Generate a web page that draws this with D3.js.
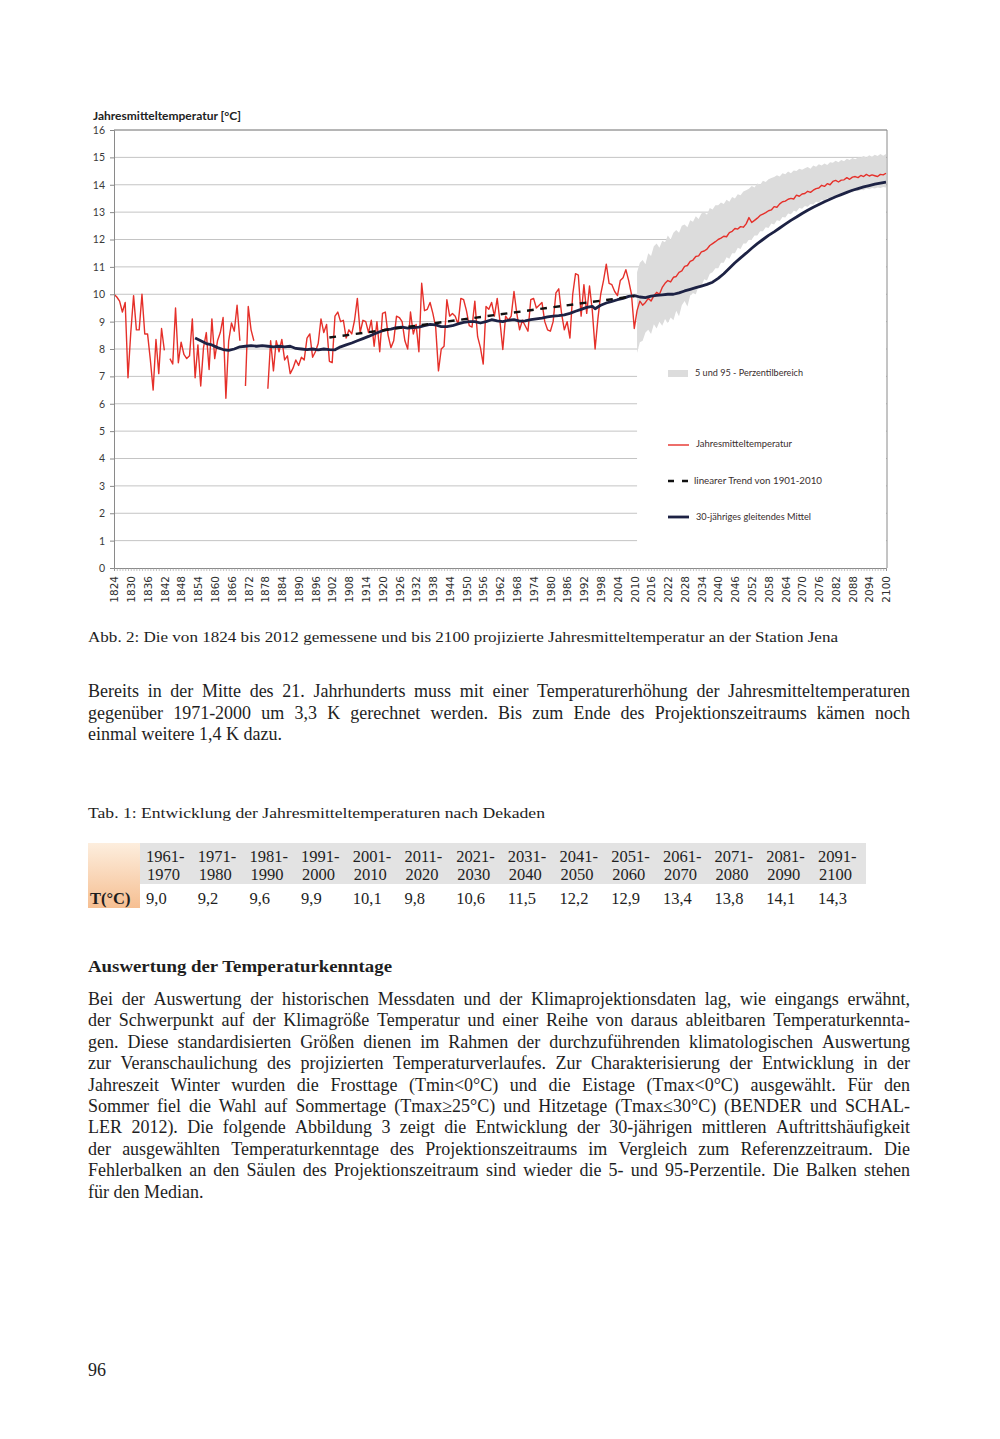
<!DOCTYPE html>
<html><head><meta charset="utf-8">
<script src="https://cdn.jsdelivr.net/npm/d3@7"></script>
<style>body{margin:0;background:#fff}svg{display:block}</style>
</head><body><svg id="c" width="1000" height="1439"></svg>
<script>
// ---------------- DATA ----------------
const tickYears = [1824,1830,1836,1842,1848,1854,1860,1866,1872,1878,1884,1890,1896,1902,1908,1914,1920,1926,1932,1938,1944,1950,1956,1962,1968,1974,1980,1986,1992,1998,2004,2010,2016,2022,2028,2034,2040,2046,2052,2058,2064,2070,2076,2082,2088,2094,2100];
const yTicks = [0,1,2,3,4,5,6,7,8,9,10,11,12,13,14,15,16];

// measured annual mean temperature 1824-2010 (null = missing)
const measuredTemp = [
 10.0, 9.9, 9.75, 9.35, 9.7, 6.95, 8.6, 9.95, 8.7, 8.7,      // 1824-1833
 10.0, 8.55, 8.55, 7.6, 6.5, 8.35, 7.1, 8.75, 7.95, null,    // 1834-1843
 7.65, 7.45, 9.5, 7.5, 8.25, 7.8, 7.65, 7.75, 9.1, 6.95,     // 1844-1853
 8.15, 6.65, 8.05, 8.6, 7.25, 9.1, 7.65, 8.3, 8.6, 9.15,     // 1854-1863
 6.2, 8.3, 8.95, 8.65, 9.6, 8.3, null, 6.65, 9.55, 8.7,      // 1864-1873
 8.3, null, null, null, null, 6.55, 8.3, 7.2, 8.3, 7.9,      // 1874-1883
 8.35, 7.6, 7.75, 7.1, 7.3, 7.6, 7.4, 7.7, 7.6, 8.4,         // 1884-1893
 8.55, 7.7, 7.9, 8.2, 9.1, 8.6, 8.9, 7.55, 7.5, 9.2,         // 1894-1903
 9.35, 9.0, 9.05, 8.4, 8.7, 8.55, 9.05, 9.85, 8.6, 9.05,     // 1904-1913
 9.0, 8.6, 9.05, 8.1, 9.0, 7.9, 9.3, 9.35, 8.5, 8.05,        // 1914-1923
 8.3, 9.2, 9.15, 9.0, 8.3, 8.0, 9.35, 8.55, 8.9, 7.9,        // 1924-1933
 10.4, 9.4, 9.45, 9.7, 9.3, 8.8, 7.2, 8.0, 8.1, 9.8,         // 1934-1943
 9.2, 9.3, 9.2, 8.9, 9.85, 9.8, 9.4, 8.85, 8.8, 9.75,        // 1944-1953
 8.45, 8.05, 7.45, 9.55, 9.45, 9.7, 9.2, 9.85, 9.0, 7.98,    // 1954-1963
 9.2, 9.05, 9.2, 10.1, 9.3, 8.7, 9.05, 8.85, 8.65, 9.8,      // 1964-1973
 9.85, 9.5, 9.6, 9.7, 9.0, 8.7, 8.65, 9.0, 10.05, 10.2,      // 1974-1983
 9.3, 8.7, 9.0, 8.4, 10.0, 10.75, 10.7, 9.2, 10.35, 9.3,     // 1984-1993
 10.3, 9.4, 8.0, 9.1, 10.0, 10.5, 11.1, 10.4, 10.35, 10.1,   // 1994-2003
 9.95, 10.5, 10.6, 10.9, 10.5, 10.0, 8.75                    // 2004-2010
];
// projected annual mean (median) 2011-2100
const projectedTemp = [
 9.4, 9.75, 9.6, 9.7, 9.85, 9.75, 9.95, 10.07, 10.0, 10.25,
 10.4, 10.5, 10.45, 10.62, 10.65, 10.8, 10.85, 11.02, 11.05, 11.2,
 11.25, 11.38, 11.4, 11.55, 11.58, 11.65, 11.78, 11.85, 11.92, 12.0,
 12.05, 12.12, 12.1, 12.25, 12.3, 12.4, 12.38, 12.47, 12.45, 12.57,
 12.8, 12.62, 12.7, 12.78, 12.88, 12.93, 12.98, 13.05, 13.08, 13.2,
 13.18, 13.3, 13.38, 13.4, 13.47, 13.5, 13.48, 13.62, 13.58, 13.66,
 13.68, 13.76, 13.72, 13.8, 13.86, 13.88, 13.98, 13.94, 14.04, 14.0,
 14.12, 14.16, 14.1, 14.17, 14.18, 14.26, 14.2, 14.28, 14.3, 14.26,
 14.34, 14.3, 14.38, 14.32, 14.36, 14.33, 14.3, 14.38, 14.36, 14.42
];
// 95th percentile 2011-2100
const bandUpper = [
 10.8, 11.15, 11.25, 11.1, 11.5, 11.4, 11.75, 11.85, 11.7, 11.95,
 11.9, 12.15, 12.0, 12.25, 12.35, 12.25, 12.5, 12.55, 12.45, 12.7,
 12.65, 12.85, 12.75, 12.95, 13.0, 12.9, 13.15, 13.1, 13.25, 13.25,
 13.35, 13.3, 13.45, 13.38, 13.55, 13.5, 13.65, 13.62, 13.75, 13.8,
 13.85, 13.95, 13.9, 14.05, 14.0, 14.15, 14.1, 14.2, 14.25, 14.28,
 14.35, 14.3, 14.42, 14.38, 14.48, 14.42, 14.52, 14.5, 14.58, 14.55,
 14.6, 14.65, 14.58, 14.7, 14.66, 14.75, 14.7, 14.78, 14.72, 14.82,
 14.8, 14.88, 14.82, 14.9, 14.86, 14.95, 14.9, 14.98, 14.93, 15.0,
 15.0, 15.05, 15.0, 15.08, 15.02, 15.1, 15.05, 15.12, 15.06, 15.12
];
// 5th percentile 2011-2100
const bandLower = [
 7.85, 8.25, 8.3, 8.6, 8.7, 8.55, 8.9, 8.75, 9.0, 8.85,
 9.1, 8.95, 9.15, 9.05, 9.4, 9.2, 9.6, 9.75, 9.55, 9.95,
 10.05, 10.0, 10.3, 10.3, 10.55, 10.5, 10.75, 10.8, 10.95, 10.95,
 11.15, 11.15, 11.35, 11.3, 11.5, 11.5, 11.7, 11.65, 11.85, 11.85,
 12.0, 12.0, 12.15, 12.15, 12.3, 12.3, 12.45, 12.42, 12.58, 12.55,
 12.7, 12.68, 12.82, 12.8, 12.95, 12.92, 13.05, 13.02, 13.15, 13.12,
 13.22, 13.2, 13.3, 13.28, 13.38, 13.35, 13.45, 13.42, 13.52, 13.5,
 13.58, 13.56, 13.64, 13.6, 13.7, 13.66, 13.75, 13.72, 13.8, 13.76,
 13.82, 13.8, 13.86, 13.84, 13.88, 13.86, 13.9, 13.88, 13.92, 13.9
];
// 30-year running mean [year, value]
const runningMean = [
 [1853,8.4],[1855,8.3],[1857,8.2],[1859,8.15],[1861,8.05],[1863,7.98],[1865,7.95],[1867,8.0],
 [1869,8.08],[1871,8.1],[1873,8.12],[1875,8.1],[1877,8.12],[1879,8.1],[1881,8.08],[1883,8.1],
 [1885,8.08],[1887,8.1],[1889,8.02],[1891,8.0],[1893,7.98],[1895,8.0],[1897,7.97],[1899,8.0],
 [1901,7.98],[1903,7.97],[1905,8.08],[1907,8.15],[1909,8.22],[1911,8.3],[1913,8.38],[1915,8.46],
 [1917,8.55],[1919,8.63],[1921,8.7],[1923,8.73],[1925,8.78],[1927,8.8],[1929,8.76],[1931,8.78],
 [1933,8.8],[1935,8.85],[1937,8.9],[1939,8.88],[1941,8.82],[1943,8.82],[1945,8.85],[1947,8.92],
 [1949,8.97],[1951,9.0],[1953,9.0],[1955,8.95],[1957,9.0],[1959,9.07],[1961,9.03],[1963,9.0],
 [1965,9.05],[1967,9.07],[1969,9.02],[1971,9.03],[1973,9.07],[1975,9.1],[1977,9.13],[1979,9.17],
 [1981,9.2],[1983,9.22],[1985,9.25],[1987,9.3],[1989,9.38],[1991,9.45],[1993,9.52],[1995,9.56],
 [1996,9.47],[1998,9.6],[2000,9.68],[2002,9.74],[2004,9.8],[2006,9.85],[2008,9.92],[2010,9.95],
 [2012,9.9],[2014,9.88],[2016,9.93],[2018,9.96],[2020,9.98],[2022,10.0],[2024,10.0],[2026,10.05],
 [2028,10.12],[2030,10.18],[2032,10.24],[2034,10.3],[2036,10.36],[2038,10.44],[2040,10.58],[2042,10.75],
 [2044,10.95],[2046,11.15],[2048,11.33],[2050,11.5],[2052,11.68],[2054,11.85],[2056,12.0],[2058,12.15],
 [2060,12.28],[2062,12.42],[2064,12.56],[2066,12.7],[2068,12.82],[2070,12.95],[2072,13.07],[2074,13.18],
 [2076,13.28],[2078,13.38],[2080,13.47],[2082,13.56],[2084,13.64],[2086,13.72],[2088,13.8],[2090,13.86],
 [2092,13.92],[2094,13.97],[2096,14.02],[2098,14.06],[2100,14.1]
];
// linear trend 1901-2010
const trendLine = [[1901, 8.42], [2010, 9.93]];

// table
const decadeLabels = [["1961-","1970"],["1971-","1980"],["1981-","1990"],["1991-","2000"],["2001-","2010"],["2011-","2020"],["2021-","2030"],["2031-","2040"],["2041-","2050"],["2051-","2060"],["2061-","2070"],["2071-","2080"],["2081-","2090"],["2091-","2100"]];
const decadeValues = ["9,0","9,2","9,6","9,9","10,1","9,8","10,6","11,5","12,2","12,9","13,4","13,8","14,1","14,3"];

const legendItems = ["5 und 95 - Perzentilbereich","Jahresmitteltemperatur","linearer Trend von 1901-2010","30-jähriges gleitendes Mittel"];

// ---------------- DRAW ----------------
const svg = d3.select("#c");
svg.append("rect").attr("width",1000).attr("height",1439).attr("fill","#fff");

const years = d3.range(1824, 2101);
const x = d3.scalePoint().domain(years).range([114, 886]);
const y = d3.scaleLinear().domain([0,16]).range([568,130]);
const red = "#e5302a", navy = "#1d2244", grid = "#c4c4c4";

const g = svg.append("g");

// gridlines
g.append("g").selectAll("line").data(yTicks.filter(d=>d>0)).join("line")
 .attr("x1",114).attr("x2",887).attr("y1",d=>y(d)).attr("y2",d=>y(d))
 .attr("stroke",grid).attr("stroke-width",1);

const bandYears = years.filter(d=>d>=2011);
const bandData = bandYears.map((yr,i)=>({yr, lo:bandLower[i], hi:bandUpper[i]}));

// white base of stacked area (hides gridlines below band)
g.append("path").datum(bandData)
 .attr("d", d3.area().x(d=>x(d.yr)).y0(y(0)).y1(d=>y(d.lo)))
 .attr("fill","#fff");
// percentile band
g.append("path").datum(bandData)
 .attr("d", d3.area().x(d=>x(d.yr)).y0(d=>y(d.lo)).y1(d=>y(d.hi)))
 .attr("fill","#dcdcdc");

// red line
const tempSeries = measuredTemp.map((v,i)=>({yr:1824+i, v}))
  .concat(projectedTemp.map((v,i)=>({yr:2011+i, v})));
g.append("path").datum(tempSeries)
 .attr("d", d3.line().defined(d=>d.v!=null).x(d=>x(d.yr)).y(d=>y(d.v)))
 .attr("fill","none").attr("stroke",red).attr("stroke-width",1.4).attr("stroke-linejoin","round");

// running mean
g.append("path").datum(runningMean)
 .attr("d", d3.line().x(d=>x(d[0])).y(d=>y(d[1])))
 .attr("fill","none").attr("stroke",navy).attr("stroke-width",2.8).attr("stroke-linejoin","round");

// trend
g.append("path").datum(trendLine)
 .attr("d", d3.line().x(d=>x(d[0])).y(d=>y(d[1])))
 .attr("fill","none").attr("stroke","#111").attr("stroke-width",2.4).attr("stroke-dasharray","6.7,6.6");

// axes
const yAxis = g.append("g").attr("transform","translate(114,0)")
 .call(d3.axisLeft(y).tickValues(yTicks).tickSize(4).tickFormat(d3.format("d")));
yAxis.select(".domain").attr("stroke","#8a8a8a");
yAxis.selectAll(".tick line").attr("stroke","#8a8a8a");
yAxis.selectAll("text").attr("font-family","Lato").attr("font-size",10.5).attr("fill","#3a3a3a").attr("x",-9);

const xMinor = g.append("g").attr("transform","translate(0,568)")
 .call(d3.axisBottom(x).tickValues(years).tickSize(3).tickFormat(""));
xMinor.select(".domain").attr("stroke","#8a8a8a");
xMinor.selectAll(".tick line").attr("stroke","#9a9a9a").attr("stroke-width",0.6);

const xLab = g.append("g").attr("transform","translate(0,568)")
 .call(d3.axisBottom(x).tickValues(tickYears).tickSize(0));
xLab.select(".domain").remove();
xLab.selectAll("text").attr("font-family","DejaVu Sans").attr("font-size",10.5).attr("fill","#2e2e2e")
 .attr("transform","rotate(-90)").attr("text-anchor","end").attr("x",-8).attr("y",0).attr("dy","0.36em");

// frame
g.append("line").attr("x1",114).attr("x2",887).attr("y1",130).attr("y2",130).attr("stroke","#8a8a8a");
g.append("line").attr("x1",887).attr("x2",887).attr("y1",130).attr("y2",568).attr("stroke","#8a8a8a");

// title
g.append("text").attr("x",93).attr("y",120).attr("font-family","Lato").attr("font-weight","bold")
 .attr("font-size",11.5).attr("fill","#222").attr("textLength",148).attr("lengthAdjust","spacingAndGlyphs")
 .text("Jahresmitteltemperatur [°C]");

// legend
const lg = g.append("g");
lg.append("rect").attr("x",668).attr("y",370).attr("width",20).attr("height",7).attr("fill","#dcdcdc");
lg.append("line").attr("x1",668).attr("x2",689).attr("y1",445).attr("y2",445).attr("stroke",red).attr("stroke-width",1.4);
lg.append("line").attr("x1",668).attr("x2",690).attr("y1",481).attr("y2",481).attr("stroke","#111").attr("stroke-width",2.4).attr("stroke-dasharray","6,8");
lg.append("line").attr("x1",668).attr("x2",689).attr("y1",517).attr("y2",517).attr("stroke",navy).attr("stroke-width",2.8);
const legPos = [[695,376,108],[696,447,96],[694,484,128],[696,520,115]];
legendItems.forEach((t,i)=>{
  lg.append("text").attr("x",legPos[i][0]).attr("y",legPos[i][1]).attr("font-family","Lato")
   .attr("font-size",9.2).attr("fill","#3a2e2e").attr("textLength",legPos[i][2]).attr("lengthAdjust","spacingAndGlyphs").text(t);
});

// ---------------- TEXT ----------------
const serif = "Liberation Serif";
const ink = "#1e1e1e";
function plain(str, xx, yy, fs, opts={}) {
  const t = svg.append("text").attr("x",xx).attr("y",yy).attr("font-family",serif).attr("font-size",fs).attr("fill",ink).text(str);
  if (opts.bold) t.attr("font-weight","bold");
  if (opts.width) t.attr("textLength",opts.width).attr("lengthAdjust","spacingAndGlyphs");
  return t;
}
function justify(str, xx, yy, w, fs) {
  const words = str.split(/\s+/);
  const t = svg.append("text").attr("y",yy).attr("font-family",serif).attr("font-size",fs).attr("fill",ink);
  const widths = words.map(wd=>{ const s=t.append("tspan").text(wd); const l=s.node().getComputedTextLength(); s.remove(); return l; });
  const gap = (w - d3.sum(widths))/(words.length-1);
  let cx = xx;
  words.forEach((wd,i)=>{ t.append("tspan").attr("x",cx).text(wd); cx += widths[i]+gap; });
}

plain("Abb. 2: Die von 1824 bis 2012 gemessene und bis 2100 projizierte Jahresmitteltemperatur an der Station Jena", 88, 642, 15.5, {width:750});

const bodyFs = 18, L = 88, W = 822;
justify("Bereits in der Mitte des 21. Jahrhunderts muss mit einer Temperaturerhöhung der Jahresmitteltemperaturen", L, 697, W, bodyFs);
justify("gegenüber 1971-2000 um 3,3 K gerechnet werden. Bis zum Ende des Projektionszeitraums kämen noch", L, 718.5, W, bodyFs);
plain("einmal weitere 1,4 K dazu.", L, 740, bodyFs);

plain("Tab. 1: Entwicklung der Jahresmitteltemperaturen nach Dekaden", 88, 818, 15.5, {width:457});

// table
const defs = svg.append("defs");
const grad = defs.append("linearGradient").attr("id","og").attr("x1",0).attr("y1",0).attr("x2",0).attr("y2",1);
grad.append("stop").attr("offset","0%").attr("stop-color","#fdeede");
grad.append("stop").attr("offset","100%").attr("stop-color","#f6bf92");
svg.append("rect").attr("x",88).attr("y",843).attr("width",52).attr("height",65).attr("fill","url(#og)");
svg.append("rect").attr("x",140).attr("y",843).attr("width",726).attr("height",41).attr("fill","#e3e3e3");
const colX = d3.scalePoint().domain(d3.range(decadeLabels.length)).range([146, 818]);
decadeLabels.forEach((d,i)=>{
  plain(d[0], colX(i), 862, 16.5);
  plain(d[1], colX(i)+1, 880, 16.5);
  plain(decadeValues[i], colX(i), 904, 16.5);
});
plain("T(°C)", 90, 904, 16.5, {bold:true});

plain("Auswertung der Temperaturkenntage", 88, 972, 17.5, {bold:true, width:304});

const para = [
 "Bei der Auswertung der historischen Messdaten und der Klimaprojektionsdaten lag, wie eingangs erwähnt,",
 "der Schwerpunkt auf der Klimagröße Temperatur und einer Reihe von daraus ableitbaren Temperaturkennta-",
 "gen. Diese standardisierten Größen dienen im Rahmen der durchzuführenden klimatologischen Auswertung",
 "zur Veranschaulichung des projizierten Temperaturverlaufes. Zur Charakterisierung der Entwicklung in der",
 "Jahreszeit Winter wurden die Frosttage (Tmin<0°C) und die Eistage (Tmax<0°C) ausgewählt. Für den",
 "Sommer fiel die Wahl auf Sommertage (Tmax≥25°C) und Hitzetage (Tmax≤30°C) (BENDER und SCHAL-",
 "LER 2012). Die folgende Abbildung 3 zeigt die Entwicklung der 30-jährigen mittleren Auftrittshäufigkeit",
 "der ausgewählten Temperaturkenntage des Projektionszeitraums im Vergleich zum Referenzzeitraum. Die",
 "Fehlerbalken an den Säulen des Projektionszeitraum sind wieder die 5- und 95-Perzentile. Die Balken stehen"
];
para.forEach((l,i)=> justify(l, L, 1005 + i*21.4, W, bodyFs));
plain("für den Median.", L, 1005 + 9*21.4, bodyFs);

plain("96", 88, 1376, 18);
</script></body></html>
